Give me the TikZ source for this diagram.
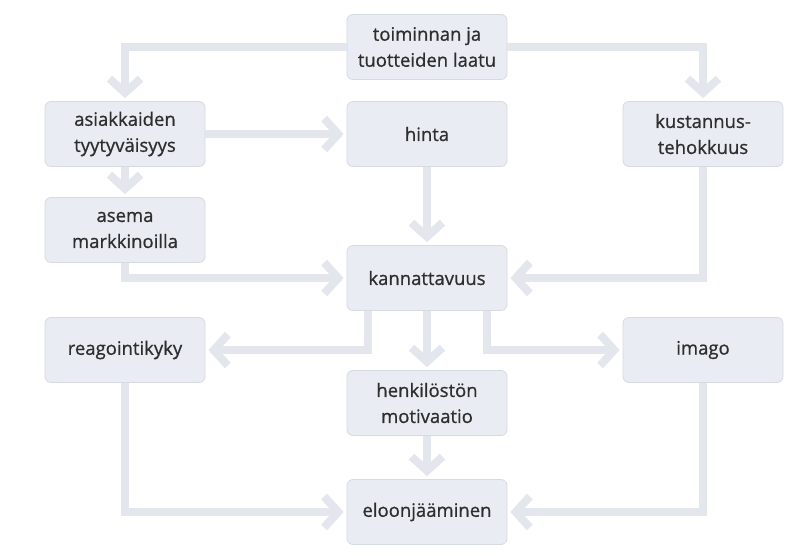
\documentclass[tikz,border=0pt]{standalone}
\usepackage{fontspec}
\setmainfont{Open Sans}
\usetikzlibrary{arrows.meta}
\definecolor{linecol}{HTML}{E3E6ED}
\definecolor{boxfill}{HTML}{E9ECF2}
\definecolor{boxborder}{HTML}{D6DAE2}
\definecolor{textcol}{HTML}{2E2E2E}
\tikzset{
  box/.style={draw=boxborder, fill=boxfill, rounded corners=6pt, line width=0.8pt,
    minimum width=160pt, minimum height=65pt, align=center, text=textcol,
    font=\fontsize{18.5}{26}\selectfont\addfontfeatures{FakeBold=0.8}, inner sep=2pt},
  conn/.style={draw=linecol, line width=8pt, line join=miter,
    -{Straight Barb[length=14pt, width=31pt]}, shorten >=3pt}
}
\begin{document}
\begin{tikzpicture}[x=1pt,y=-1pt]
\useasboundingbox[fill=white] (0,0) rectangle (801,555);
\node[box] (top)   at (427,47)  {toiminnan ja\\tuotteiden laatu};
\node[box] (asia)  at (125,134) {asiakkaiden\\tyytyväisyys};
\node[box] (hinta) at (427,134) {hinta};
\node[box] (kust)  at (703,134) {kustannus-\\tehokkuus};
\node[box] (asema) at (125,230) {asema\\markkinoilla};
\node[box] (kann)  at (427,278) {kannattavuus};
\node[box] (reag)  at (125,350) {reagointikyky};
\node[box] (imago) at (703,350) {imago};
\node[box] (henk)  at (427,403) {henkilöstön\\motivaatio};
\node[box] (eloon) at (427,512) {eloonjääminen};

\draw[conn] (top.west) -| (asia.north);
\draw[conn] (top.east) -| (kust.north);
\draw[conn] (asia.east) -- (hinta.west);
\draw[conn] (asia.south) -- (asema.north);
\draw[conn] (hinta.south) -- (kann.north);
\draw[conn] (asema.south) |- (kann.west);
\draw[conn] (kust.south) |- (kann.east);
\draw[conn] ([xshift=-59pt]kann.south) |- (reag.east);
\draw[conn] (kann.south) -- (henk.north);
\draw[conn] ([xshift=60pt]kann.south) |- (imago.west);
\draw[conn] (henk.south) -- (eloon.north);
\draw[conn] (reag.south) |- (eloon.west);
\draw[conn] (imago.south) |- (eloon.east);
\end{tikzpicture}
\end{document}
